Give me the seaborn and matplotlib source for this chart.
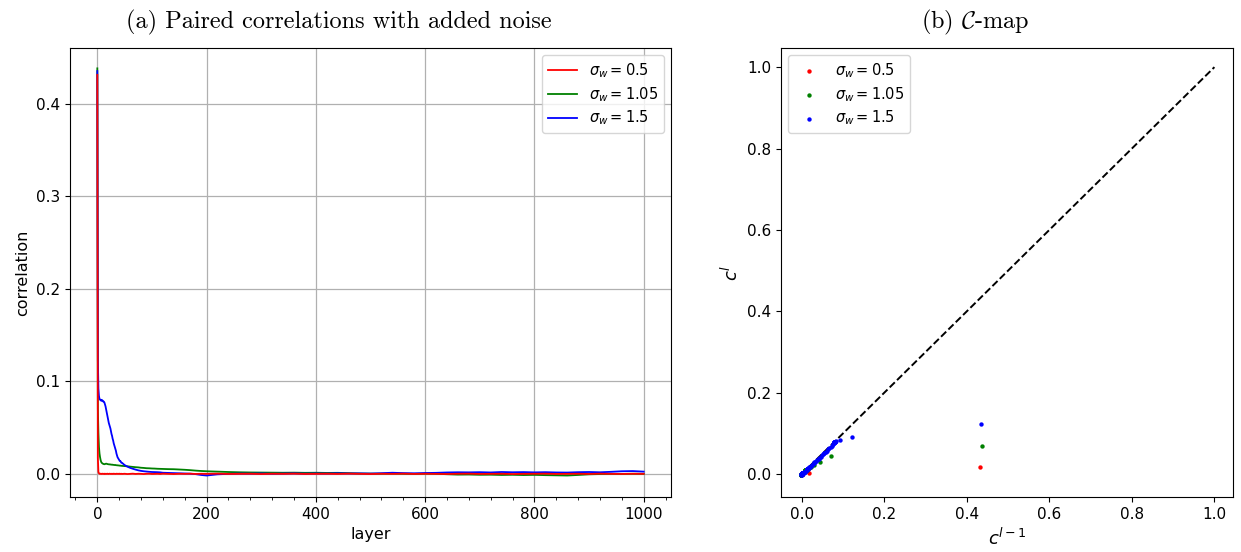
import numpy as np
import matplotlib
matplotlib.use("Agg")
import matplotlib.pyplot as plt
from matplotlib.ticker import AutoMinorLocator, MultipleLocator
import seaborn as sns

# ---------------- data ----------------
layers = list(range(0, 46)) + list(range(50, 121, 5)) + list(range(130, 201, 10)) + list(range(220, 1001, 20))

corr_05 = [0.431, 0.017, 0.002, 0.0006, 0.0002, -0.0001, 0.0002, 0.0001, -0.0002, 0.0001,
           0.0002, -0.0001, 0.0000, 0.0002, -0.0002, 0.0001, 0.0000, -0.0001, 0.0002, 0.0001,
           -0.0002, 0.0000, 0.0001, 0.0002, -0.0001, 0.0000, 0.0001, -0.0002, 0.0001, 0.0000,
           0.0002, -0.0001, 0.0001, 0.0000, -0.0002, 0.0001, 0.0002, 0.0000, -0.0001, 0.0001,
           0.0000, 0.0002, -0.0001, 0.0000, 0.0001, -0.0001,
           0.0001, -0.0002, 0.0000, 0.0002, -0.0001, 0.0001, 0.0000, -0.0002, 0.0001, 0.0002,
           -0.0001, 0.0000, 0.0001, -0.0001, 0.0002,
           0.0000, -0.0002, 0.0001, 0.0000, 0.0002, -0.0001, 0.0001, 0.0000,
           0.0002, -0.0001, 0.0000, 0.0001, -0.0002, 0.0001, 0.0000, 0.0002, -0.0001, 0.0000,
           0.0001, -0.0001, 0.0002, 0.0000, -0.0002, 0.0001, 0.0000, 0.0002, -0.0001, 0.0001,
           0.0000, -0.0002, 0.0001, 0.0002, -0.0001, 0.0000, 0.0001, -0.0002, 0.0000, 0.0001,
           0.0002, -0.0001, 0.0000, 0.0001, -0.0001, 0.0002, 0.0000, -0.0001, 0.0001, 0.0000]

corr_105 = [0.438, 0.070, 0.044, 0.029, 0.022, 0.018, 0.015, 0.013, 0.012, 0.0115,
            0.0110, 0.0108, 0.0105, 0.0104, 0.0106, 0.0108, 0.0110, 0.0109, 0.0107, 0.0105,
            0.0104, 0.0103, 0.0102, 0.0103, 0.0101, 0.0100, 0.0099, 0.0100, 0.0098, 0.0097,
            0.0097, 0.0096, 0.0095, 0.0096, 0.0094, 0.0093, 0.0093, 0.0092, 0.0091, 0.0091,
            0.0090, 0.0089, 0.0088, 0.0089, 0.0087, 0.0086,
            0.0084, 0.0082, 0.0078, 0.0075, 0.0072, 0.0070, 0.0066, 0.0064, 0.0061, 0.0060,
            0.0058, 0.0057, 0.0055, 0.0054, 0.0053,
            0.0051, 0.0050, 0.0047, 0.0044, 0.0040, 0.0035, 0.0031, 0.0028,
            0.0024, 0.0020, 0.0017, 0.0015, 0.0014, 0.0013, 0.0012, 0.0013, 0.0011, 0.0012,
            0.0010, 0.0011, 0.0008, 0.0004, 0.0003, 0.0002, 0.0003, 0.0001, 0.0000, 0.0002,
            0.0001, -0.0004, -0.0008, -0.0007, -0.0010, -0.0009, -0.0012, -0.0010, -0.0013, -0.0011,
            -0.0014, -0.0016, -0.0018, -0.0012, -0.0005, -0.0002, 0.0000, -0.0001, 0.0001, 0.0000]

corr_15 = [0.435, 0.123, 0.092, 0.084, 0.081, 0.080, 0.080, 0.079, 0.080, 0.079,
           0.079, 0.078, 0.078, 0.077, 0.075, 0.073, 0.070, 0.067, 0.064, 0.061,
           0.058, 0.055, 0.053, 0.051, 0.049, 0.046, 0.043, 0.041, 0.038, 0.036,
           0.033, 0.031, 0.029, 0.027, 0.025, 0.022, 0.020, 0.018, 0.017, 0.016,
           0.015, 0.014, 0.014, 0.013, 0.012, 0.012,
           0.0095, 0.0078, 0.0065, 0.0055, 0.0046, 0.0038, 0.0032, 0.0028, 0.0025, 0.0022,
           0.0020, 0.0019, 0.0018, 0.0016, 0.0012,
           0.0010, 0.0008, 0.0006, 0.0004, 0.0002, -0.0003, -0.0012, -0.0018,
           -0.0005, 0.0000, 0.0003, 0.0002, 0.0004, 0.0001, 0.0003, 0.0005, 0.0002, 0.0004,
           0.0003, 0.0006, 0.0004, 0.0005, 0.0003, 0.0007, 0.0012, 0.0008, 0.0006, 0.0009,
           0.0011, 0.0015, 0.0017, 0.0016, 0.0018, 0.0015, 0.0020, 0.0017, 0.0019, 0.0016,
           0.0018, 0.0015, 0.0014, 0.0018, 0.0020, 0.0017, 0.0022, 0.0028, 0.0030, 0.0024]

series = [(r'$\sigma_w = 0.5$', corr_05, 'red'),
          (r'$\sigma_w = 1.05$', corr_105, 'green'),
          (r'$\sigma_w = 1.5$', corr_15, 'blue')]

# ---------------- figure ----------------
fig = plt.figure(figsize=(12.41, 5.52), dpi=100)
W, H = 1241, 552
ax1 = fig.add_axes([70 / W, 55 / H, 601 / W, 449 / H])
ax2 = fig.add_axes([781 / W, 55 / H, 452 / W, 449 / H])

# (a) line plot
for label, vals, col in series:
    sns.lineplot(x=layers, y=vals, ax=ax1, color=col, label=label, linewidth=1.3,
                 estimator=None, sort=False, zorder=3 if col == 'red' else 2)
ax1.set_xlim(-50, 1050)
ax1.set_ylim(-0.025, 0.46)
ax1.xaxis.set_major_locator(MultipleLocator(200))
ax1.xaxis.set_minor_locator(AutoMinorLocator(5))
ax1.yaxis.set_major_locator(MultipleLocator(0.1))
ax1.grid(True, color='#b0b0b0', linewidth=0.9)
ax1.set_axisbelow(True)
ax1.set_xlabel('layer', fontsize=11.5)
ax1.set_ylabel('correlation', fontsize=11.5)
ax1.tick_params(labelsize=11)
ax1.legend(loc='upper right', fontsize=10.5, labelspacing=0.35)
ax1.set_title('(a) Paired correlations with added noise', fontfamily='cmr10',
              fontsize=17.5, pad=14, x=0.447)

# (b) C-map scatter
ax2.plot([0, 1], [0, 1], color='black', linestyle='--', linewidth=1.4, zorder=1)
for label, vals, col in series:
    sns.scatterplot(x=vals[:-1], y=vals[1:], ax=ax2, color=col, label=label,
                    s=10, linewidth=0, zorder=2)
ax2.set_xlim(-0.05, 1.045)
ax2.set_ylim(-0.056, 1.047)
ax2.xaxis.set_major_locator(MultipleLocator(0.2))
ax2.yaxis.set_major_locator(MultipleLocator(0.2))
ax2.set_xlabel(r'$c^{l-1}$', fontsize=13)
ax2.set_ylabel(r'$c^{l}$', fontsize=13)
ax2.tick_params(labelsize=11)
ax2.legend(loc='upper left', fontsize=10.5, labelspacing=0.35)
ax2.set_title(r'(b) $\mathcal{C}$-map', fontfamily='cmr10', math_fontfamily='cm',
              fontsize=17.5, pad=14, x=0.429)

fig.savefig('out.png', dpi=100)
